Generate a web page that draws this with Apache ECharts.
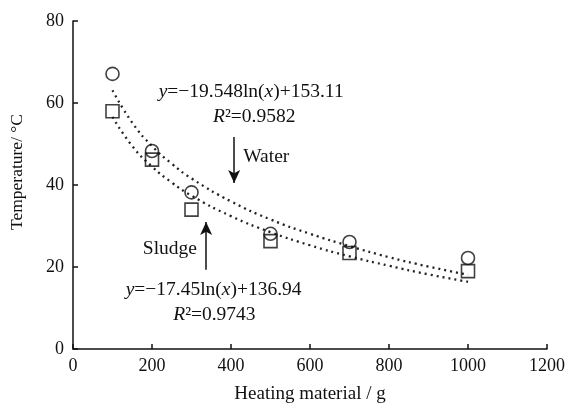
<!DOCTYPE html>
<html>
<head>
<meta charset="utf-8">
<script src="https://cdn.jsdelivr.net/npm/echarts@6/dist/echarts.min.js"></script>
<style>html,body{margin:0;padding:0;background:#fff}#c{width:568px;height:403px}</style>
</head>
<body>
<div id="c"></div>
<script>
// ---- data ----
var heating = [100, 200, 300, 500, 700, 1000];
var waterTemp = [67.1, 48.3, 38.2, 28.1, 26.1, 22.2];
var sludgeTemp = [58.0, 46.2, 34.0, 26.3, 23.4, 19.0];
// trend curves
var trendX = [100, 150, 200, 250, 300, 400, 500, 600, 700, 800, 900, 1000];
var waterTrend = [63.1, 55.2, 49.5, 45.2, 41.6, 36.0, 31.6, 28.1, 25.1, 22.4, 20.1, 18.1];
var sludgeTrend = [56.6, 49.5, 44.5, 40.6, 37.4, 32.4, 28.5, 25.3, 22.6, 20.3, 18.2, 16.4];
var xTicks = [0, 200, 400, 600, 800, 1000, 1200];
var yTicks = [0, 20, 40, 60, 80];

var FONT = "'Liberation Serif','Times New Roman',serif";
function pairs(xs, ys){ return xs.map(function(x,i){ return [x, ys[i]]; }); }

var chart = echarts.init(document.getElementById('c'), null, {renderer:'canvas'});
var axisCommon = {
  axisLine:{show:true, lineStyle:{color:'#111', width:1.5}},
  axisTick:{show:true, inside:true, length:5, lineStyle:{color:'#111', width:1.5}},
  splitLine:{show:false},
  axisLabel:{color:'#111', fontFamily:FONT, fontSize:18, formatter:function(v){return String(v);}},
  nameTextStyle:{color:'#111', fontFamily:FONT, fontSize:17.5}
};
var option = {
  backgroundColor:'#fff',
  animation:false,
  grid:{left:73, right:21, top:21, bottom:54, containLabel:false, outerBoundsMode:'none'},
  xAxis: Object.assign({}, axisCommon, {
    type:'value', min:xTicks[0], max:xTicks[xTicks.length-1], interval:200,
    name:'Heating material / g', nameLocation:'middle', nameGap:36,
    nameTextStyle:{color:'#111', fontFamily:FONT, fontSize:19},
    axisLabel:Object.assign({}, axisCommon.axisLabel, {margin:8})
  }),
  yAxis: Object.assign({}, axisCommon, {
    type:'value', min:yTicks[0], max:yTicks[yTicks.length-1], interval:20,
    name:'Temperature/ °C', nameLocation:'middle', nameGap:47,
    nameTextStyle:{color:'#111', fontFamily:FONT, fontSize:17.5, padding:[0,0,0,26]},
    axisLabel:Object.assign({}, axisCommon.axisLabel, {margin:9})
  }),
  series:[
    {type:'line', data:pairs(trendX, waterTrend), smooth:true, showSymbol:false, silent:true,
     lineStyle:{color:'#222', width:2.3, type:[2,4]}, z:1,
     markLine:{silent:true, symbol:['none','arrow'], symbolSize:[9,13], label:{show:false},
       lineStyle:{color:'#111', width:1.5, type:'solid'},
       data:[[{coord:[408,51.7]},{coord:[408,40.5]}]]}},
    {type:'line', data:pairs(trendX, sludgeTrend), smooth:true, showSymbol:false, silent:true,
     lineStyle:{color:'#222', width:2.3, type:[2,4]}, z:1,
     markLine:{silent:true, symbol:['none','arrow'], symbolSize:[9,13], label:{show:false},
       lineStyle:{color:'#111', width:1.5, type:'solid'},
       data:[[{coord:[337,19.3]},{coord:[337,31]}]]}},
    {type:'scatter', name:'Water', data:pairs(heating, waterTemp), symbol:'circle', symbolSize:13,
     itemStyle:{color:'rgba(0,0,0,0)', borderColor:'#111', borderWidth:1.6}, z:3},
    {type:'scatter', name:'Sludge', data:pairs(heating, sludgeTemp), symbol:'rect', symbolSize:13,
     itemStyle:{color:'rgba(0,0,0,0)', borderColor:'#111', borderWidth:1.6}, z:3}
  ]
};
chart.setOption(option);

var rich = {
  n:{fontFamily:FONT, fontSize:19.5, color:'#111'},
  i:{fontFamily:FONT, fontSize:19.5, fontStyle:'italic', color:'#111'}
};
function txt(coord, str, align){
  var p = chart.convertToPixel({gridIndex:0}, coord);
  return {type:'text', x:p[0], y:p[1], silent:true,
    style:{text:str, rich:rich, align:align||'center', verticalAlign:'middle', fontFamily:FONT, fontSize:19.5, fill:'#111'}};
}
chart.setOption({graphic:[
  txt([451, 62.7], '{i|y}{n|=−19.548ln(}{i|x}{n|)+153.11}'),
  txt([459, 56.6], '{i|R}{n|²=0.9582}'),
  txt([431, 46.8], '{n|Water}', 'left'),
  txt([314, 24.4], '{n|Sludge}', 'right'),
  txt([356, 14.4], '{i|y}{n|=−17.45ln(}{i|x}{n|)+136.94}'),
  txt([358, 8.3], '{i|R}{n|²=0.9743}')
]});
</script>
</body>
</html>
